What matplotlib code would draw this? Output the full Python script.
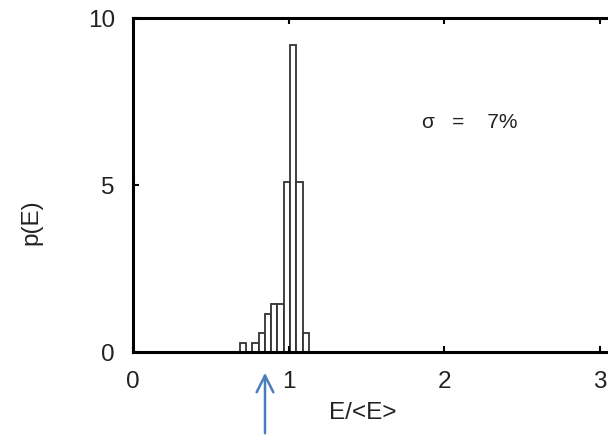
import numpy as np
import matplotlib
matplotlib.use('Agg')
import matplotlib.pyplot as plt

plt.rcParams['font.family'] = ['Liberation Sans', 'DejaVu Sans']

# histogram of E/<E>
bin_left = [0.685, 0.7255, 0.766, 0.8065, 0.847, 0.8875, 0.928, 0.9685, 1.009, 1.0495, 1.09]
p_E = [0.28, 0.0, 0.28, 0.58, 1.13, 1.43, 1.43, 5.1, 9.2, 5.1, 0.58]
bin_width = 0.0405

x_ticks = [0, 1, 2, 3]
y_ticks = [0, 5, 10]
sigma_text = 'σ   =    7%'

fig = plt.figure(figsize=(6.08, 4.36), dpi=100)
# axes runs past the right edge of the figure, like the cropped original
ax = fig.add_axes([133/608, 84/436, 3.5*155.7/608, 334/436])

ax.bar(bin_left, p_E, width=bin_width, align='edge', facecolor='white',
       edgecolor='#333333', linewidth=1.3)

ax.set_xlim(0, 3.5)
ax.set_ylim(0, 10)
ax.set_xticks(x_ticks)
ax.set_yticks(y_ticks)
ax.tick_params(direction='in', length=4, width=1.5, top=True, labelsize=17.5,
               labelcolor='#222222')
ax.tick_params(axis='x', pad=14)
ax.tick_params(axis='y', pad=13)
for s in ax.spines.values():
    s.set_linewidth(2.2)

ax.set_xlabel('E/<E>', fontsize=17.5, color='#222222')
ax.xaxis.set_label_coords((363 - 133) / 545, -50 / 334)
ax.set_ylabel('p(E)', fontsize=17.5, color='#222222')
ax.yaxis.set_label_coords(-91 / 545, (351 - 221) / 334)

ax.text(1.856, 6.88, sigma_text, fontsize=15, va='center', ha='left',
        color='#222222')

# arrow under the axis pointing at E/<E> ~ 0.85
ax.annotate('', xy=(265, 66), xytext=(265, 0), xycoords='figure pixels',
            textcoords='figure pixels',
            arrowprops=dict(arrowstyle='->', color='#4a7ebb', lw=1.8,
                            mutation_scale=30))

fig.savefig('out.png', dpi=100)
